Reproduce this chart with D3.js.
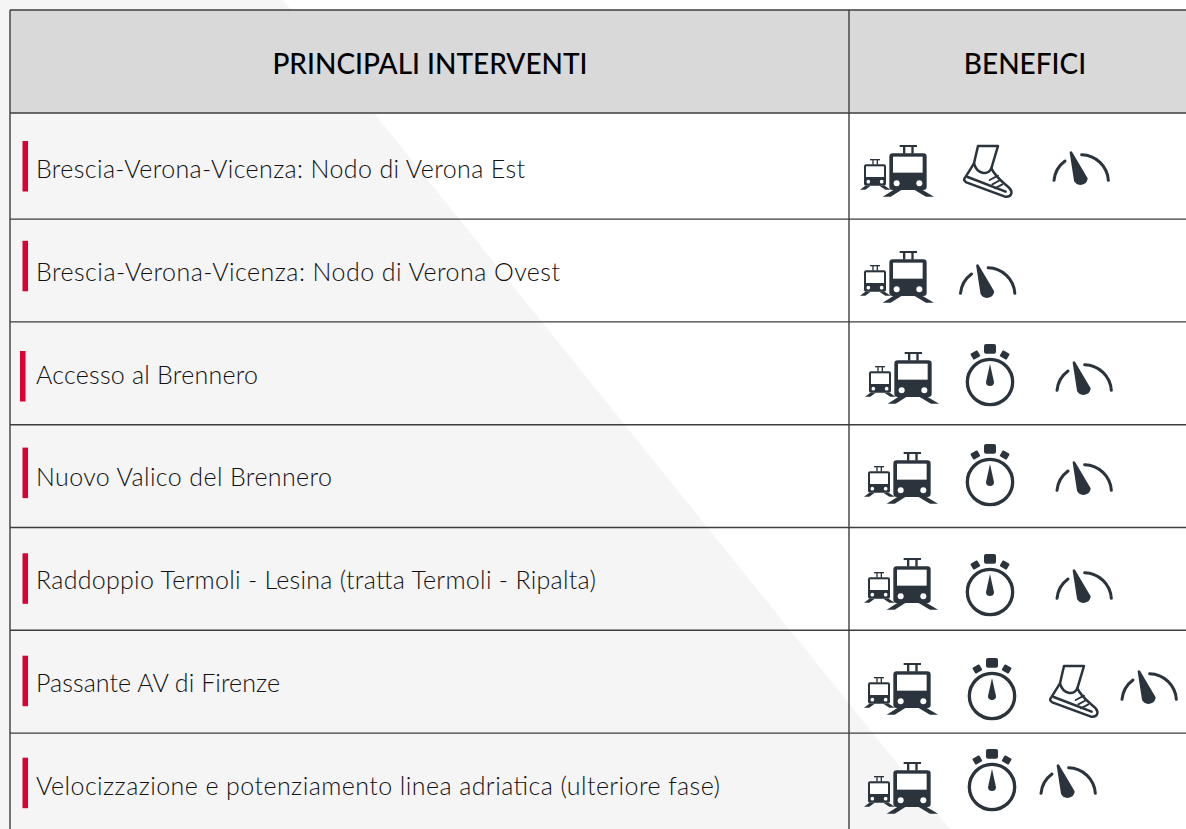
<!DOCTYPE html>
<html>
<head>
<meta charset="utf-8">
<script src="https://cdn.jsdelivr.net/npm/d3@7"></script>
<style>
    html, body { margin: 0; padding: 0; background: #fff; overflow: hidden; }
    text { font-family: Lato, "Open Sans", sans-serif; }
</style>
</head>
<body>
<script>
// Data
var headers = ["PRINCIPALI INTERVENTI", "BENEFICI"];

var interventi = [
    "Brescia-Verona-Vicenza: Nodo di Verona Est",
    "Brescia-Verona-Vicenza: Nodo di Verona Ovest",
    "Accesso al Brennero",
    "Nuovo Valico del Brennero",
    "Raddoppio Termoli - Lesina (tratta Termoli - Ripalta)",
    "Passante AV di Firenze",
    "Velocizzazione e potenziamento linea adriatica (ulteriore fase)"
];

var benefici = [
    ["treno", "scarpa", "tachimetro"],
    ["treno", "tachimetro"],
    ["treno", "cronometro", "tachimetro"],
    ["treno", "cronometro", "tachimetro"],
    ["treno", "cronometro", "tachimetro"],
    ["treno", "cronometro", "scarpa", "tachimetro"],
    ["treno", "cronometro", "tachimetro"]
];

// Layout
var width = 1186, height = 829;
var left = 10, top_ = 10, colX = 849, headBottom = 113;
var iconColor = "#2b343c", lineColor = "#3d3d3d";

// the red bars and icons are not quite aligned in the original, so nudge them per row
var barNudge = [-1.2, -4.2, 3.2, -3, -0.1, -0.5, -1.3];
var barX = [22.5, 22.5, 20, 22.5, 22.5, 22.5, 22.5];

// the original font is not installed, so fit each line to its measured width
var textWidths = [489, 524, 222, 296, 560, 244, 684];

var iconPos = [
    [[860, 145], [963, 145], [1081, 182]],
    [[860, 251], [987.5, 295]],
    [[865, 352], [990, 382], [1084, 392]],
    [[864, 452], [990, 482], [1084, 492]],
    [[864, 558], [990, 592], [1084, 600]],
    [[864, 663], [992, 696], [1049, 665], [1149, 701]],
    [[864, 762], [992, 787], [1068, 795]]
];

var y = d3.scaleBand()
    .domain(interventi)
    .range([116.3, 116.3 + 7 * 102.8]);

var svg = d3.select("body").append("svg")
    .attr("width", width)
    .attr("height", height)
    .style("display", "block");

// Background triangle
svg.append("path")
    .attr("d", "M0,0 L283,0 L950,829 L0,829 Z")
    .attr("fill", "#f5f5f5");

// Header band
svg.append("rect")
    .attr("x", left).attr("y", top_)
    .attr("width", width - left).attr("height", headBottom - top_)
    .attr("fill", "#d9d9d9");

// Grid lines
var hLines = [top_, headBottom].concat(interventi.slice(1).map(function(d) { return y(d); }));
svg.selectAll(".hline")
    .data(hLines)
    .enter().append("line")
    .attr("x1", left).attr("x2", width)
    .attr("y1", function(d) { return d; })
    .attr("y2", function(d) { return d; })
    .attr("stroke", lineColor)
    .attr("stroke-width", 1.4);

svg.selectAll(".vline")
    .data([left, colX])
    .enter().append("line")
    .attr("x1", function(d) { return d; })
    .attr("x2", function(d) { return d; })
    .attr("y1", top_).attr("y2", height)
    .attr("stroke", lineColor)
    .attr("stroke-width", 1.4);

// Header text
svg.selectAll(".head")
    .data(headers)
    .enter().append("text")
    .attr("x", function(d, i) { return i == 0 ? 430 : 1025; })
    .attr("y", 73.5)
    .attr("text-anchor", "middle")
    .attr("font-size", 28)
    .attr("font-weight", 500)
    .attr("fill", "#000")
    .text(function(d) { return d; });

// Rows
var rows = svg.selectAll(".row")
    .data(interventi)
    .enter().append("g")
    .attr("class", "row");

rows.append("rect")
    .attr("x", function(d, i) { return barX[i]; })
    .attr("y", function(d, i) { return y(d) + y.bandwidth() / 2 - 25.5 + barNudge[i]; })
    .attr("width", 5.5)
    .attr("height", 50.5)
    .attr("fill", "#dc0032");

rows.append("text")
    .attr("x", 36)
    .attr("y", function(d) { return y(d) + y.bandwidth() / 2 + 10.3; })
    .attr("font-size", 25)
    .attr("font-weight", 300)
    .attr("textLength", function(d, i) { return textWidths[i]; })
    .attr("lengthAdjust", "spacing")
    .attr("fill", "#111")
    .text(function(d) { return d; });

// Icons, drawn in 3x units because that is how they were measured
function drawTreno(g) {
    var c = g.append("g").attr("transform", "scale(0.3333)");
    // big train
    c.append("rect").attr("x", 88).attr("y", 25).attr("width", 112).attr("height", 110).attr("rx", 10).attr("fill", iconColor);
    c.append("rect").attr("x", 99).attr("y", 35).attr("width", 89).attr("height", 48).attr("fill", "#fff");
    c.append("rect").attr("x", 119).attr("y", 0).attr("width", 52).attr("height", 6).attr("fill", iconColor);
    c.append("rect").attr("x", 129).attr("y", 5).attr("width", 7).attr("height", 21).attr("fill", iconColor);
    c.append("rect").attr("x", 154).attr("y", 5).attr("width", 7).attr("height", 21).attr("fill", iconColor);
    c.selectAll(".w1").data([110, 178]).enter().append("circle")
        .attr("cx", function(d) { return d; }).attr("cy", 115).attr("r", 9).attr("fill", "#fff");
    c.append("path").attr("fill", iconColor).attr("d", "M100,135 L124,135 L92,155 L68,155 Z M164,135 L188,135 L222,155 L198,155 Z");
    // small train
    c.append("rect").attr("x", 12).attr("y", 58).attr("width", 66).attr("height", 64).attr("rx", 6).attr("fill", iconColor);
    c.append("rect").attr("x", 18).attr("y", 64).attr("width", 54).attr("height", 32).attr("fill", "#fff");
    c.append("rect").attr("x", 30).attr("y", 42).attr("width", 30).attr("height", 4).attr("fill", iconColor);
    c.append("rect").attr("x", 37).attr("y", 45).attr("width", 4).attr("height", 14).attr("fill", iconColor);
    c.append("rect").attr("x", 50).attr("y", 45).attr("width", 4).attr("height", 14).attr("fill", iconColor);
    c.selectAll(".w2").data([25, 65]).enter().append("circle")
        .attr("cx", function(d) { return d; }).attr("cy", 110).attr("r", 5.5).attr("fill", "#fff");
    c.append("path").attr("fill", iconColor).attr("d", "M16,122 L32,122 L16,134 L0,134 Z M58,122 L74,122 L92,134 L76,134 Z");
}

function drawCronometro(g) {
    var c = g.append("g").attr("transform", "scale(0.3333)");
    c.append("circle").attr("r", 68).attr("fill", "none").attr("stroke", iconColor).attr("stroke-width", 10);
    c.append("rect").attr("x", -18).attr("y", -114).attr("width", 36).attr("height", 29).attr("rx", 6).attr("fill", iconColor);
    c.selectAll(".tab").data([-1, 1]).enter().append("rect")
        .attr("x", -12).attr("y", -10).attr("width", 24).attr("height", 20).attr("rx", 3)
        .attr("fill", iconColor)
        .attr("transform", function(d) { return "translate(" + d * 44 + ",-81) rotate(" + d * 30 + ")"; });
    c.append("path").attr("fill", iconColor).attr("d", "M0,-54 L12,0 A12,12 0 1 1 -12,0 Z");
}

function drawScarpa(g) {
    var c = g.append("g").attr("transform", "scale(0.3333)")
        .attr("fill", "none")
        .attr("stroke", iconColor)
        .attr("stroke-width", 7.5)
        .attr("stroke-linejoin", "round")
        .attr("stroke-linecap", "round");
    c.append("path").attr("d", "M33,55 L45,3 L105,3 L85,70");
    c.append("path").attr("d", "M33,55 C42,88 75,92 85,70 C100,100 125,115 140,130 C150,142 146,157 126,155 L10,112 Q0,106 5,100 Z");
    c.append("path").attr("d", "M14,96 L128,140");
    c.append("path").attr("d", "M80,105 L105,92 M88,118 L112,105 M96,130 L118,118").attr("stroke-width", 5.5);
}

function drawTachimetro(g) {
    var c = g.append("g").attr("transform", "scale(0.3333)");
    c.append("path")
        .attr("fill", "none")
        .attr("stroke", iconColor)
        .attr("stroke-width", 9)
        .attr("stroke-linecap", "round")
        .attr("d", "M-81,-5 A82,82 0 0 1 -48,-63 M2,-82 A82,82 0 0 1 82,-5");
    c.append("path")
        .attr("fill", iconColor)
        .attr("stroke", iconColor)
        .attr("stroke-width", 8)
        .attr("stroke-linejoin", "round")
        .attr("d", "M-30,-88 L-17,-4 A18,18 0 0 0 16,-10 Z");
}

var drawers = {
    treno: drawTreno,
    cronometro: drawCronometro,
    scarpa: drawScarpa,
    tachimetro: drawTachimetro
};

benefici.forEach(function(list, i) {
    list.forEach(function(name, j) {
        var g = svg.append("g")
            .attr("class", "icon " + name)
            .attr("transform", "translate(" + iconPos[i][j][0] + "," + iconPos[i][j][1] + ")");
        drawers[name](g);
    });
});
</script>
</body>
</html>
